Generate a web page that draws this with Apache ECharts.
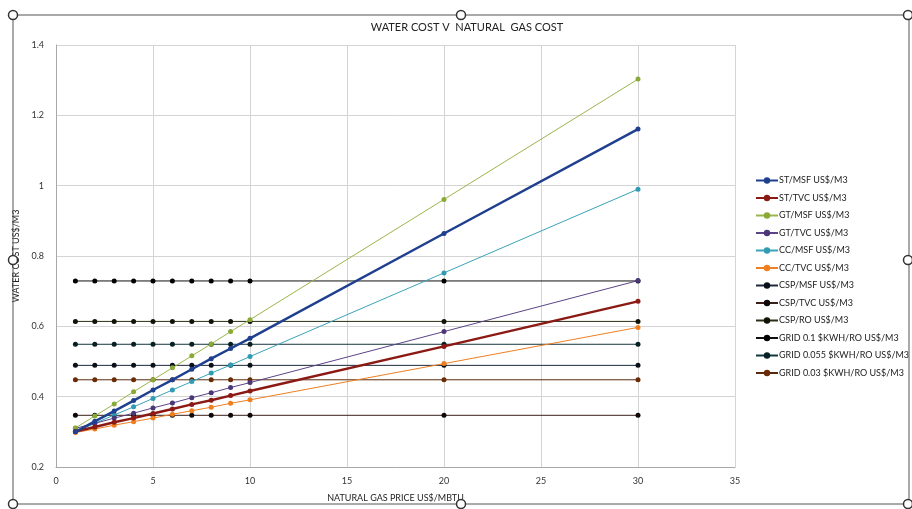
<!DOCTYPE html>
<html>
<head>
<meta charset="utf-8">
<script src="https://cdn.jsdelivr.net/npm/echarts@6/dist/echarts.min.js"></script>
<style>html,body{margin:0;padding:0;background:#fff}#c{width:912px;height:509px}</style>
</head>
<body>
<div id="c"></div>
<script>
const gasPrice = [1, 2, 3, 4, 5, 6, 7, 8, 9, 10, 20, 30];
const seriesNames = [
  'ST/MSF US$/M3', 'ST/TVC US$/M3', 'GT/MSF US$/M3', 'GT/TVC US$/M3',
  'CC/MSF US$/M3', 'CC/TVC US$/M3', 'CSP/MSF US$/M3', 'CSP/TVC US$/M3',
  'CSP/RO US$/M3', 'GRID 0.1 $KWH/RO US$/M3', 'GRID 0.055 $KWH/RO US$/M3', 'GRID 0.03 $KWH/RO US$/M3'
];
const stMsf  = [0.300, 0.330, 0.359, 0.389, 0.419, 0.448, 0.478, 0.508, 0.537, 0.566, 0.864, 1.161];
const stTvc  = [0.301, 0.314, 0.327, 0.339, 0.352, 0.365, 0.378, 0.390, 0.403, 0.416, 0.543, 0.671];
const gtMsf  = [0.311, 0.345, 0.379, 0.414, 0.448, 0.482, 0.516, 0.550, 0.585, 0.619, 0.961, 1.303];
const gtTvc  = [0.310, 0.324, 0.339, 0.353, 0.368, 0.382, 0.397, 0.411, 0.426, 0.440, 0.585, 0.730];
const ccMsf  = [0.300, 0.324, 0.348, 0.371, 0.395, 0.419, 0.443, 0.467, 0.490, 0.514, 0.752, 0.990];
const ccTvc  = [0.298, 0.308, 0.319, 0.329, 0.339, 0.350, 0.360, 0.370, 0.381, 0.391, 0.494, 0.597];
const cspMsf = [0.489, 0.489, 0.489, 0.489, 0.489, 0.489, 0.489, 0.489, 0.489, 0.489, 0.489, 0.489];
const cspTvc = [0.347, 0.347, 0.347, 0.347, 0.347, 0.347, 0.347, 0.347, 0.347, 0.347, 0.347, 0.347];
const cspRo  = [0.614, 0.614, 0.614, 0.614, 0.614, 0.614, 0.614, 0.614, 0.614, 0.614, 0.614, 0.614];
const grid01 = [0.729, 0.729, 0.729, 0.729, 0.729, 0.729, 0.729, 0.729, 0.729, 0.729, 0.729, 0.729];
const grid0055 = [0.549, 0.549, 0.549, 0.549, 0.549, 0.549, 0.549, 0.549, 0.549, 0.549, 0.549, 0.549];
const grid003 = [0.448, 0.448, 0.448, 0.448, 0.448, 0.448, 0.448, 0.448, 0.448, 0.448, 0.448, 0.448];
const xTicks = [0, 5, 10, 15, 20, 25, 30, 35];
const yTicks = [0.2, 0.4, 0.6, 0.8, 1, 1.2, 1.4];

const allValues = [stMsf, stTvc, gtMsf, gtTvc, ccMsf, ccTvc, cspMsf, cspTvc, cspRo, grid01, grid0055, grid003];
const lineColors = ['#1f3f8f', '#8b1a14', '#9bb54a', '#5b4487', '#3aa3b8', '#f07f20',
                    '#1e2a3c', '#3a1f1a', '#2b2f14', '#101010', '#14363c', '#5a2a0c'];
const markerColors = ['#1f3f8f', '#8b1a14', '#8aaa38', '#4a3778', '#2f9cb3', '#f07f20',
                      '#0b0f18', '#100808', '#101406', '#000000', '#062024', '#6a2c06'];
const widths = [2.5, 2.5, 1, 1, 1, 1, 1, 1, 1, 1, 1, 1];

const FONT = 'Lato, "Open Sans", sans-serif';
const series = seriesNames.map((n, i) => ({
  name: n,
  type: 'line',
  data: gasPrice.map((x, j) => [x, allValues[i][j]]),
  symbol: 'circle',
  symbolSize: 5,
  showSymbol: true,
  lineStyle: { color: lineColors[i], width: widths[i] },
  itemStyle: { color: markerColors[i] },
  z: 20 - i,
  animation: false
}));

const chart = echarts.init(document.getElementById('c'), null, { renderer: 'canvas' });
const handles = [[13,15],[461,15],[908,15],[13,260],[908,260],[13,504],[461,504],[908,504]];
chart.setOption({
  backgroundColor: '#ffffff',
  animation: false,
  title: {
    text: 'WATER COST V  NATURAL  GAS COST',
    left: 462, top: 17, textAlign: 'center',
    textStyle: { fontFamily: FONT, fontSize: 11, fontWeight: 'normal', color: '#222' }
  },
  legend: {
    orient: 'vertical', left: 750, top: 171,
    itemWidth: 22, itemHeight: 8, itemGap: 8.5,
    textStyle: { fontFamily: FONT, fontSize: 9, color: '#222', padding: [0, 0, 0, -4] },
    data: seriesNames
  },
  grid: { left: 56, right: 177, top: 45, bottom: 42, containLabel: false },
  xAxis: {
    type: 'value', min: xTicks[0], max: xTicks[xTicks.length - 1], interval: 5,
    name: 'NATURAL GAS PRICE US$/MBTU', nameLocation: 'middle', nameGap: 27,
    nameTextStyle: { fontFamily: FONT, fontSize: 9, color: '#222' },
    axisLine: { show: true, lineStyle: { color: '#a8a8a8' } },
    axisTick: { show: false },
    axisLabel: { fontFamily: FONT, fontSize: 9, color: '#333', margin: 10 },
    splitLine: { show: true, lineStyle: { color: '#d4d4d4' } }
  },
  yAxis: {
    type: 'value', min: yTicks[0], max: yTicks[yTicks.length - 1], interval: 0.2,
    name: 'WATER COST US$/M3', nameLocation: 'middle', nameGap: 29, nameRotate: 90,
    nameTextStyle: { fontFamily: FONT, fontSize: 9, color: '#222' },
    axisLine: { show: true, lineStyle: { color: '#a8a8a8' } },
    axisTick: { show: false },
    axisLabel: { fontFamily: FONT, fontSize: 9, color: '#333', margin: 12 },
    splitLine: { show: true, lineStyle: { color: '#d4d4d4' } }
  },
  graphic: [
    { type: 'rect', shape: { x: 13, y: 15, width: 896, height: 489 }, style: { fill: 'none', stroke: '#555', lineWidth: 1 }, z: 100, silent: true }
  ].concat(handles.map(h => ({
    type: 'circle', shape: { cx: h[0], cy: h[1], r: 4.5 }, style: { fill: '#fff', stroke: '#333', lineWidth: 1.5 }, z: 101, silent: true
  }))),
  series: series
});
</script>
</body>
</html>
